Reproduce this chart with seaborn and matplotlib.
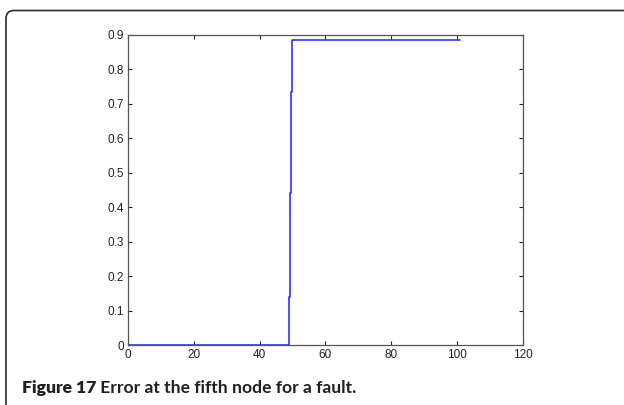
import numpy as np
import pandas as pd
import seaborn as sns
import matplotlib
matplotlib.use("Agg")
import matplotlib.pyplot as plt
from matplotlib.path import Path
from matplotlib.patches import PathPatch

# ---- data ----
time_x = [0, 48.8, 48.8, 49.2, 49.2, 49.5, 49.5, 49.9, 49.9, 101]
error_y = [0, 0, 0.14, 0.14, 0.44, 0.44, 0.735, 0.735, 0.885, 0.885]
x_ticks = [0, 20, 40, 60, 80, 100, 120]
y_ticks = [0, 0.1, 0.2, 0.3, 0.4, 0.5, 0.6, 0.7, 0.8, 0.9]
y_tick_labels = ["0", "0.1", "0.2", "0.3", "0.4", "0.5", "0.6", "0.7", "0.8", "0.9"]
caption_bold = "Figure 17"
caption_rest = " Error at the fifth node for a fault."

sns.set_style("ticks")
plt.rcParams['font.family'] = ['Liberation Sans', 'DejaVu Sans']

df = pd.DataFrame({"t": time_x, "e": error_y})

fig = plt.figure(figsize=(6.24, 4.05), dpi=100)
ax = fig.add_axes([128/624, 1-345/405, (522.7-128)/624, (345-34.7)/405])

sns.lineplot(data=df, x="t", y="e", ax=ax, estimator=None, sort=False,
             color="#2020ff", linewidth=1.1)

ax.set_xlim(0, 120)
ax.set_ylim(0, 0.9)
ax.set_xticks(x_ticks)
ax.set_xticklabels([str(v) for v in x_ticks])
ax.set_yticks(y_ticks)
ax.set_yticklabels(y_tick_labels)
ax.set_xlabel("")
ax.set_ylabel("")
ax.tick_params(direction="in", length=3, width=0.8, top=True, right=True,
               labelsize=8.5, colors="#222222", pad=3)
for lab in ax.get_xticklabels() + ax.get_yticklabels():
    lab.set_family(["Liberation Sans", "DejaVu Sans"])
for sp in ax.spines.values():
    sp.set_visible(True)
    sp.set_color("#555555")
    sp.set_linewidth(0.9)

# rounded frame (top + left) like the reference page
x0 = 6/624
yt = 1 - 10.5/405
rx = 8/624
ry = 8/405
verts = [(x0, -0.05), (x0, yt - ry), (x0, yt), (x0 + rx, yt), (1.02, yt)]
codes = [Path.MOVETO, Path.LINETO, Path.CURVE3, Path.CURVE3, Path.LINETO]
frame = PathPatch(Path(verts, codes), transform=fig.transFigure, fill=False,
                  edgecolor="#2b2b2b", linewidth=1.2, clip_on=False)
fig.add_artist(frame)

# caption
t1 = fig.text(22/624, 1-393/405, caption_bold, fontsize=12.6, fontweight="heavy",
              family=["Lato", "DejaVu Sans"], color="#231f20", va="baseline")
fig.canvas.draw()
bb = t1.get_window_extent()
fig.text(bb.x1/624, 1-393/405, caption_rest, fontsize=12.6, fontweight="bold",
         family=["Lato", "DejaVu Sans"], color="#231f20", va="baseline")

fig.savefig("out.png", dpi=100)
